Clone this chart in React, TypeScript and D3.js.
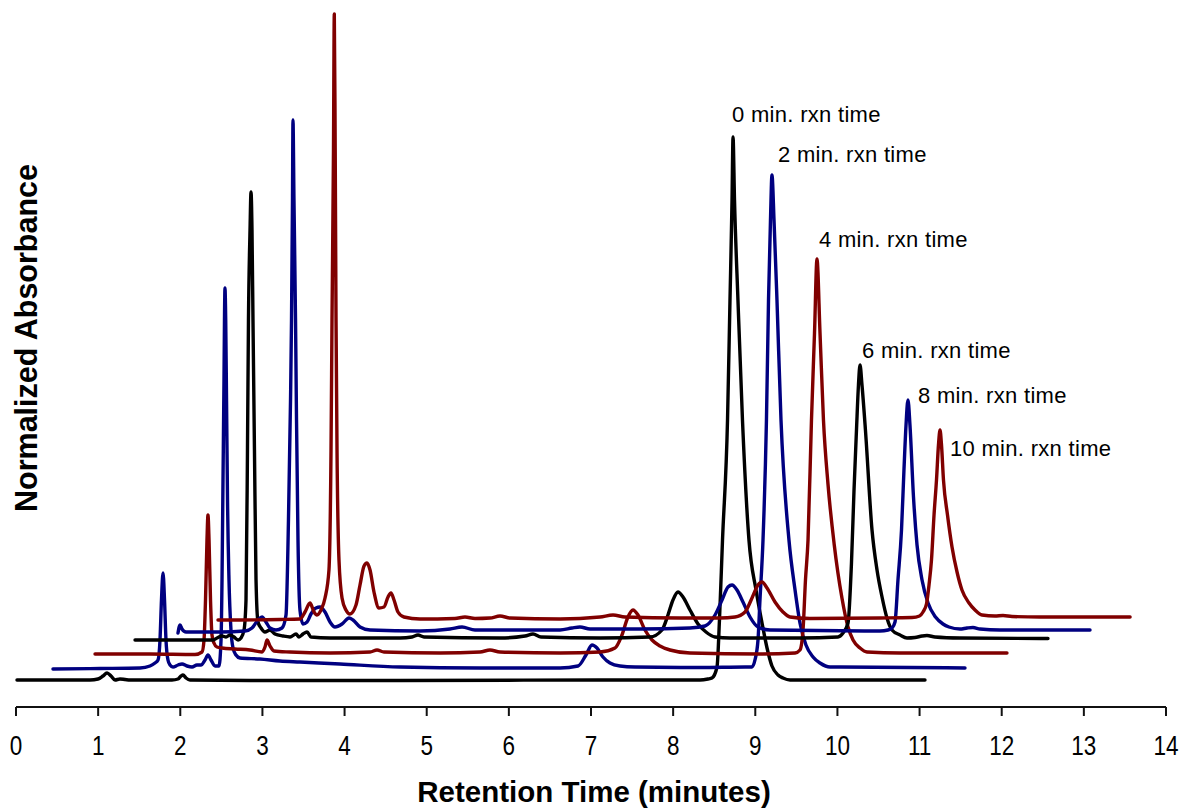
import React from 'react';
import * as d3 from 'd3';

type Pt = [number, number];

// x ticks (minutes)
const xTicks: number[] = [0, 1, 2, 3, 4, 5, 6, 7, 8, 9, 10, 11, 12, 13, 14];

// trace labels, colours and vertical stacking offsets (absorbance units)
const traceLabels: string[] = [
  '0 min. rxn time',
  '2 min. rxn time',
  '4 min. rxn time',
  '6 min. rxn time',
  '8 min. rxn time',
  '10 min. rxn time',
];
const traceColors: string[] = ['#000000', '#000080', '#800000', '#000000', '#000080', '#800000'];
const baselineOffsets: number[] = [27, 39, 53, 68, 76, 89];
const labelShift: Pt[] = [[-1, -15], [6, -13], [2, -12], [2, -7], [10, 3], [10, 26]];

// [retention time (min), absorbance above own baseline]
const trace0: Pt[] = [[0.012,0],[0.901,0],[0.998,1],[1.059,4],[1.108,7],[1.157,4],[1.205,0],[1.266,1],[1.327,0.5],[1.388,0],[1.899,0],[1.972,1],[2.009,4],[2.033,5],[2.070,2],[2.118,0],[2.849,-0.5],[4.675,-0.5],[7.110,0],[8.327,0],[8.424,1],[8.473,2],[8.534,13],[8.564,60],[8.601,140],[8.662,260],[8.692,380],[8.717,480],[8.729,543],[8.747,480],[8.789,380],[8.844,260],[8.923,140],[9.009,90],[9.082,57],[9.143,32],[9.203,14],[9.277,5],[9.337,2],[9.423,0],[11.066,0]];

const trace2: Pt[] = [[0.450,-1],[1.023,-0.5],[1.510,0],[1.631,2],[1.692,5],[1.729,8],[1.753,28],[1.771,68],[1.790,95],[1.808,68],[1.826,28],[1.850,8],[1.875,3],[1.911,1],[1.972,3],[2.021,4],[2.082,2],[2.143,1],[2.203,3],[2.252,3],[2.301,8],[2.337,13],[2.374,8],[2.423,2],[2.471,2],[2.496,28],[2.508,88],[2.520,188],[2.532,288],[2.538,348],[2.544,380],[2.553,348],[2.563,268],[2.575,168],[2.593,88],[2.617,38],[2.642,20],[2.678,13],[2.727,10],[2.970,9],[3.214,7],[3.457,6],[3.944,4],[4.675,1],[5.649,0],[6.623,0],[6.842,2],[6.939,13],[7.012,23],[7.073,20],[7.146,11],[7.231,5],[7.353,2],[7.536,1],[8.327,0.5],[8.875,1],[8.960,1],[8.996,8],[9.033,28],[9.057,68],[9.094,128],[9.136,248],[9.161,368],[9.185,448],[9.203,493],[9.228,448],[9.264,368],[9.313,248],[9.410,128],[9.484,78],[9.544,45],[9.617,23],[9.703,11],[9.788,5],[9.910,1],[10.031,1],[11.553,0]];

const trace4: Pt[] = [[0.962,0],[1.631,0],[2.179,-0.5],[2.264,2],[2.289,14],[2.307,54],[2.325,114],[2.337,139],[2.350,114],[2.368,54],[2.386,19],[2.410,11],[2.447,7],[2.508,6],[2.666,5],[2.849,4],[2.995,2],[3.031,7],[3.056,14],[3.092,8],[3.141,3],[3.336,2],[3.823,1],[4.310,2],[4.395,4],[4.480,2],[5.162,1],[5.649,2],[5.770,4],[5.892,2],[6.623,1],[7.110,2],[7.292,6],[7.377,19],[7.450,37],[7.511,44],[7.572,39],[7.657,24],[7.743,14],[7.840,8],[7.962,4],[8.205,1],[9.057,0],[9.484,1],[9.544,4],[9.581,24],[9.611,74],[9.642,114],[9.684,234],[9.721,321],[9.751,395],[9.788,321],[9.830,234],[9.885,170],[9.960,110],[10.055,56],[10.129,27],[10.190,14],[10.275,6],[10.360,2],[10.762,1],[12.064,1]];

const trace6: Pt[] = [[1.449,-1],[2.240,-1],[2.398,-1],[2.447,1],[2.508,3],[2.557,2],[2.605,4],[2.654,2],[2.703,-1],[2.739,1],[2.776,9],[2.800,39],[2.818,189],[2.830,319],[2.849,409],[2.861,447],[2.873,409],[2.885,319],[2.903,189],[2.922,59],[2.946,17],[2.983,11],[3.031,7],[3.092,9],[3.153,5],[3.250,3],[3.336,2],[3.409,5],[3.445,2],[3.494,5],[3.543,7],[3.591,2],[3.823,1],[4.675,1],[4.821,2],[4.894,4],[4.967,2],[5.892,1],[6.197,3],[6.294,5],[6.391,2],[7.110,1],[7.718,2],[7.864,9],[7.937,24],[7.998,39],[8.059,47],[8.120,42],[8.205,29],[8.303,15],[8.400,7],[8.510,2],[8.692,1],[9.544,1],[10.007,2],[10.068,6],[10.129,16],[10.171,76],[10.202,149],[10.232,209],[10.256,254],[10.275,274],[10.299,254],[10.341,209],[10.421,109],[10.482,69],[10.543,42],[10.603,21],[10.664,9],[10.762,4],[10.847,1],[10.944,1.5],[11.030,3],[11.090,3.5],[11.188,2],[11.492,1],[12.563,0.5]];

const trace8: Pt[] = [[1.972,-2],[1.997,6],[2.021,2],[2.070,-1],[2.483,-1],[2.788,0],[2.873,3],[2.946,11],[2.995,14],[3.043,9],[3.092,3],[3.165,1],[3.238,3],[3.287,16],[3.317,111],[3.342,231],[3.354,311],[3.366,431],[3.372,511],[3.384,431],[3.403,311],[3.415,211],[3.433,91],[3.457,21],[3.494,7],[3.543,9],[3.591,17],[3.652,23],[3.701,24],[3.762,19],[3.823,9],[3.883,4],[3.969,7],[4.054,13],[4.103,11],[4.188,4],[4.310,1],[4.918,0],[5.284,2],[5.430,4],[5.588,1],[6.623,1],[6.769,3],[6.866,4],[6.988,2],[7.597,2],[8.205,3],[8.388,5],[8.510,16],[8.595,31],[8.668,44],[8.717,46],[8.777,41],[8.850,29],[8.936,14],[9.033,4],[9.179,1],[10.518,0],[10.616,1],[10.664,3],[10.701,9],[10.737,51],[10.780,101],[10.810,161],[10.835,206],[10.859,231],[10.883,206],[10.926,134],[10.969,86],[11.030,51],[11.103,28],[11.194,14],[11.285,7],[11.358,4],[11.492,2],[11.578,3],[11.650,3.5],[11.736,2],[11.979,1],[13.075,1]];

const trace10: Pt[] = [[2.459,-2],[2.727,-2],[3.214,-1.5],[3.457,-1],[3.518,6],[3.579,15],[3.628,6],[3.664,3],[3.713,8],[3.762,20],[3.810,48],[3.835,168],[3.847,298],[3.865,468],[3.875,604],[3.886,468],[3.896,298],[3.908,168],[3.932,58],[3.969,20],[4.017,8],[4.066,4],[4.139,13],[4.188,33],[4.237,52],[4.273,55],[4.310,48],[4.358,26],[4.419,10],[4.480,11],[4.529,21],[4.565,25],[4.602,18],[4.650,6],[4.723,1],[4.918,-1],[5.344,-0.5],[5.466,1],[5.588,-0.5],[5.770,0],[5.892,2],[6.014,0],[6.623,-1],[7.110,1],[7.268,3],[7.414,1],[8.083,0],[8.570,0],[8.753,1],[8.875,6],[8.960,20],[9.033,33],[9.082,36],[9.143,30],[9.240,16],[9.337,6],[9.423,1],[9.666,-0.5],[10.518,0],[10.908,0.5],[10.999,2],[11.042,6],[11.084,14],[11.115,33],[11.145,58],[11.176,103],[11.206,138],[11.230,173],[11.249,188],[11.267,173],[11.291,138],[11.340,103],[11.395,71],[11.456,46],[11.516,28],[11.602,15],[11.675,8],[11.760,3],[11.918,2],[12.016,2.5],[12.125,1.5],[12.466,1],[13.563,1]];

const traces: Pt[][] = [trace0, trace2, trace4, trace6, trace8, trace10];

const W = 1189;
const H = 810;
const FONT = "'Liberation Sans', Arial, Helvetica, sans-serif";

export default function App() {
  const x = d3.scaleLinear().domain([0, 14]).range([16, 1166]);
  const y = d3.scaleLinear().domain([0, 700]).range([707, 7]);
  const axisY = y(0);

  return (
    <svg
      width={W}
      height={H}
      viewBox={`0 0 ${W} ${H}`}
      style={{ position: 'absolute', left: 0, top: 0, background: '#fff' }}
    >
      <rect x={0} y={0} width={W} height={H} fill="#fff" />
      {traces.map((pts, i) => {
        const off = baselineOffsets[i];
        const line = d3
          .line<Pt>()
          .x((d) => x(d[0]))
          .y((d) => y(d[1] + off))
          .curve(d3.curveMonotoneX);
        return (
          <path
            key={i}
            d={line(pts) || ''}
            fill="none"
            stroke={traceColors[i]}
            strokeWidth={3.4}
            strokeLinejoin="round"
            strokeLinecap="round"
          />
        );
      })}
      {traces.map((pts, i) => {
        const late = pts.filter((p) => p[0] >= 8);
        const apex = late.reduce((a, b) => (b[1] > a[1] ? b : a), late[0]);
        const ax = x(apex[0]) + labelShift[i][0];
        const ay = y(apex[1] + baselineOffsets[i]) + labelShift[i][1];
        return (
          <text
            key={'l' + i}
            x={ax}
            y={ay}
            fontFamily={FONT}
            fontSize={22}
            letterSpacing={0.3}
            fill="#000"
          >
            {traceLabels[i]}
          </text>
        );
      })}
      <line x1={x(0)} x2={x(14)} y1={axisY} y2={axisY} stroke="#111" strokeWidth={2} />
      {xTicks.map((t) => (
        <g key={t}>
          <line x1={x(t)} x2={x(t)} y1={axisY} y2={axisY + 9} stroke="#111" strokeWidth={2} />
          <text
            transform={`translate(${x(t)},${axisY + 48}) scale(1,1.2)`}
            textAnchor="middle"
            fontFamily={FONT}
            fontSize={22.5}
            fill="#000"
          >
            {t}
          </text>
        </g>
      ))}
      <text
        x={594}
        y={802}
        textAnchor="middle"
        fontFamily={FONT}
        fontSize={29.5}
        fontWeight="bold"
        fill="#000"
      >
        Retention Time (minutes)
      </text>
      <text
        transform="translate(37,338) rotate(-90)"
        textAnchor="middle"
        fontFamily={FONT}
        fontSize={30.5}
        fontWeight="bold"
        fill="#000"
      >
        Normalized Absorbance
      </text>
    </svg>
  );
}
